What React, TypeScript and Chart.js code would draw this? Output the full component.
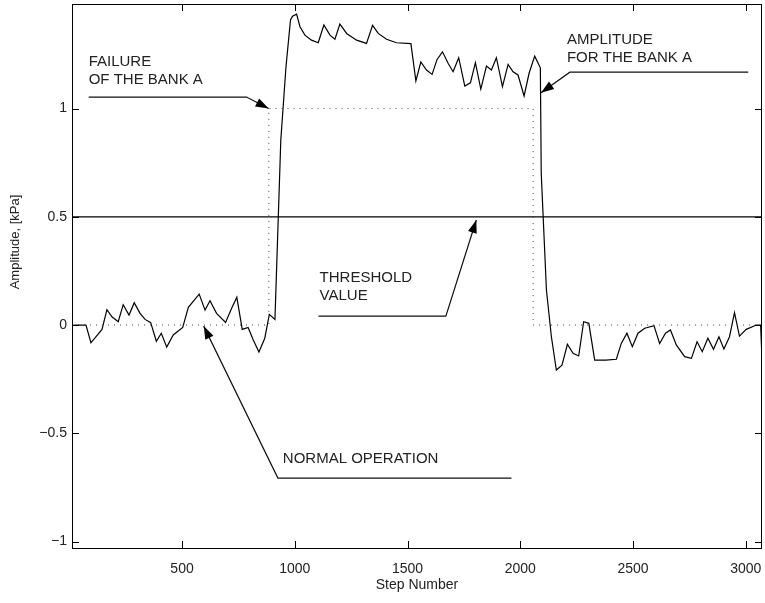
import React, { useEffect, useRef } from "react";
import { Chart, registerables } from "chart.js";

Chart.register(...registerables);

// ---- data ----
const stepNumbers = [
  18, 74, 96, 145, 167, 189, 217, 239, 265, 288, 313, 336, 361, 386, 408, 432, 461, 503, 528, 576,
  602, 624, 653, 693, 720, 743, 767, 793, 816, 841, 867, 887, 912, 938, 961, 981, 990, 1008, 1023,
  1045, 1074, 1104, 1129, 1156, 1178, 1200, 1230, 1274, 1318, 1345, 1370, 1407, 1451, 1515, 1537,
  1559, 1584, 1609, 1631, 1655, 1680, 1702, 1727, 1754, 1779, 1801, 1825, 1850, 1872, 1894, 1921,
  1946, 1968, 1990, 2017, 2039, 2064, 2089, 2093, 2116, 2138, 2160, 2185, 2209, 2234, 2259, 2281,
  2304, 2330, 2379, 2426, 2448, 2473, 2497, 2522, 2552, 2593, 2618, 2644, 2666, 2692, 2729, 2759,
  2784, 2807, 2832, 2857, 2881, 2903, 2928, 2950, 2972, 3002, 3047, 3066, 3072,
];
const amplitude = [
  0, 0, -0.082, -0.02, 0.071, 0.038, 0.015, 0.094, 0.046, 0.103, 0.055, 0.026, 0.011, -0.075, -0.038,
  -0.102, -0.046, -0.011, 0.082, 0.143, 0.069, 0.112, 0.054, 0.012, 0.077, 0.128, -0.02, -0.011,
  -0.069, -0.125, -0.061, 0.049, 0.026, 0.855, 1.193, 1.409, 1.427, 1.436, 1.378, 1.339, 1.316, 1.304,
  1.386, 1.339, 1.32, 1.39, 1.347, 1.316, 1.301, 1.384, 1.347, 1.32, 1.304, 1.3, 1.128, 1.215, 1.178,
  1.158, 1.227, 1.262, 1.209, 1.17, 1.235, 1.104, 1.119, 1.212, 1.09, 1.196, 1.178, 1.235, 1.101,
  1.204, 1.17, 1.155, 1.058, 1.163, 1.242, 1.188, 0.7, 0.162, -0.054, -0.208, -0.185, -0.089, -0.131,
  -0.143, 0.015, 0.008, -0.162, -0.162, -0.158, -0.085, -0.038, -0.1, -0.038, -0.015, -0.003, -0.085,
  -0.038, -0.023, -0.092, -0.146, -0.154, -0.077, -0.123, -0.061, -0.112, -0.054, -0.111, -0.054,
  0.057, -0.051, -0.02, 0, 0, -0.16,
];
const referenceX = [12, 885, 885, 2057, 2057, 3072];
const referenceY = [0, 0, 1, 1, 0, 0];
const thresholdX = [12, 3072];
const thresholdY = [0.5, 0.5];
const xTicks = [500, 1000, 1500, 2000, 2500, 3000];
const yTicks = [-1, -0.5, 0, 0.5, 1];
const xTitle = "Step Number";
const yTitle = "Amplitude, [kPa]";

// annotations: text lines, text anchor (data), leader polyline (data), arrow tip last
const annotations = [
  { lines: ["FAILURE", "OF THE BANK A"], tx: 86, ty: 1.216, path: [[86, 1.053], [786, 1.053], [884, 1.0]] },
  { lines: ["AMPLITUDE", "FOR THE BANK A"], tx: 2207, ty: 1.316, path: [[3011, 1.168], [2220, 1.168], [2092, 1.073]] },
  { lines: ["THRESHOLD", "VALUE"], tx: 1110, ty: 0.22, path: [[1105, 0.041], [1670, 0.041], [1805, 0.485]] },
  { lines: ["NORMAL OPERATION"], tx: 947, ty: -0.62, path: [[1961, -0.707], [925, -0.707], [596, -0.005]] },
];

const FONT = '"Liberation Sans", Arial, Helvetica, sans-serif';
const fmt = (v: number) => String(v).replace("-", "\u2212");

const decorPlugin = {
  id: "decor",
  afterDraw(chart: any) {
    const { ctx, chartArea: a, scales } = chart;
    const xs = scales.x;
    const ys = scales.y;
    ctx.save();
    ctx.strokeStyle = "#000";
    ctx.fillStyle = "#000";
    ctx.lineWidth = 1;
    // box
    ctx.strokeRect(Math.round(a.left) + 0.5, Math.round(a.top) + 0.5, Math.round(a.right - a.left) - 1, Math.round(a.bottom - a.top));
    // inward ticks
    const tl = 7;
    ctx.beginPath();
    for (const t of xTicks) {
      const px = Math.round(xs.getPixelForValue(t)) + 0.5;
      ctx.moveTo(px, a.bottom);
      ctx.lineTo(px, a.bottom - tl);
      ctx.moveTo(px, a.top);
      ctx.lineTo(px, a.top + tl);
    }
    for (const t of yTicks) {
      const py = Math.round(ys.getPixelForValue(t)) + 0.5;
      ctx.moveTo(a.left, py);
      ctx.lineTo(a.left + tl, py);
      ctx.moveTo(a.right, py);
      ctx.lineTo(a.right - tl, py);
    }
    ctx.stroke();

    // tick labels
    ctx.fillStyle = "#222";
    ctx.font = `14px ${FONT}`;
    ctx.textBaseline = "middle";
    ctx.textAlign = "center";
    for (const t of xTicks) {
      ctx.fillText(fmt(t), xs.getPixelForValue(t), a.bottom + 21);
    }
    ctx.textAlign = "right";
    for (const t of yTicks) {
      ctx.fillText(fmt(t), a.left - 5, ys.getPixelForValue(t));
    }

    // titles
    ctx.textAlign = "center";
    ctx.fillText(xTitle, (a.left + a.right) / 2, 585);
    ctx.save();
    ctx.translate(15, 242);
    ctx.rotate(-Math.PI / 2);
    ctx.font = `13px ${FONT}`;
    ctx.fillText(yTitle, 0, 0);
    ctx.restore();

    // annotations
    ctx.font = `15px ${FONT}`;
    ctx.textAlign = "left";
    ctx.textBaseline = "middle";
    ctx.fillStyle = "#222";
    for (const an of annotations) {
      const tx = xs.getPixelForValue(an.tx);
      const ty = ys.getPixelForValue(an.ty);
      an.lines.forEach((l, i) => ctx.fillText(l, tx, ty + i * 18));
      const pts = an.path.map(([x, y]) => [xs.getPixelForValue(x), ys.getPixelForValue(y)]);
      ctx.beginPath();
      ctx.strokeStyle = "#111";
      ctx.lineWidth = 1.2;
      pts.forEach(([x, y], i) => (i === 0 ? ctx.moveTo(x, y) : ctx.lineTo(x, y)));
      ctx.stroke();
      const [x1, y1] = pts[pts.length - 2];
      const [x2, y2] = pts[pts.length - 1];
      const ang = Math.atan2(y2 - y1, x2 - x1);
      const L = 13, W = 4.5;
      ctx.beginPath();
      ctx.moveTo(x2, y2);
      ctx.lineTo(x2 - L * Math.cos(ang) + W * Math.sin(ang), y2 - L * Math.sin(ang) - W * Math.cos(ang));
      ctx.lineTo(x2 - L * Math.cos(ang) - W * Math.sin(ang), y2 - L * Math.sin(ang) + W * Math.cos(ang));
      ctx.closePath();
      ctx.fillStyle = "#000";
      ctx.fill();
      ctx.fillStyle = "#222";
    }
    ctx.restore();
  },
};

export default function App() {
  const ref = useRef<HTMLCanvasElement | null>(null);
  useEffect(() => {
    if (!ref.current) return;
    const chart = new Chart(ref.current, {
      type: "line",
      data: {
        datasets: [
          {
            label: "reference",
            data: referenceX.map((x, i) => ({ x, y: referenceY[i] })),
            borderColor: "#444",
            borderWidth: 1,
            borderDash: [1, 5],
            pointRadius: 0,
            tension: 0,
          },
          {
            label: "threshold",
            data: thresholdX.map((x, i) => ({ x, y: thresholdY[i] })),
            borderColor: "#000",
            borderWidth: 1.2,
            pointRadius: 0,
            tension: 0,
          },
          {
            label: "amplitude",
            data: stepNumbers.map((x, i) => ({ x, y: amplitude[i] })),
            borderColor: "#000",
            borderWidth: 1.2,
            pointRadius: 0,
            tension: 0,
          },
        ],
      },
      options: {
        animation: false,
        responsive: false,
        maintainAspectRatio: false,
        layout: { padding: { top: 4, right: 3, left: 0, bottom: 0 } },
        plugins: { legend: { display: false }, tooltip: { enabled: false }, title: { display: false } },
        scales: {
          x: {
            type: "linear",
            min: 12,
            max: 3072,
            afterBuildTicks: (s: any) => {
              s.ticks = xTicks.map((v) => ({ value: v }));
            },
            afterFit: (s: any) => {
              s.height = 55;
              s.paddingLeft = 0;
              s.paddingRight = 0;
            },
            grid: { display: false, drawTicks: false },
            border: { display: false },
            ticks: { display: false },
          },
          y: {
            type: "linear",
            min: -1.03,
            max: 1.483,
            afterBuildTicks: (s: any) => {
              s.ticks = yTicks.map((v) => ({ value: v }));
            },
            afterFit: (s: any) => {
              s.width = 72;
              s.paddingTop = 0;
              s.paddingBottom = 0;
            },
            grid: { display: false, drawTicks: false },
            border: { display: false },
            ticks: { display: false },
          },
        },
      },
      plugins: [decorPlugin],
    });
    return () => chart.destroy();
  }, []);
  return (
    <div style={{ position: "absolute", left: 0, top: 0, width: 765, height: 603, background: "#fff" }}>
      <canvas ref={ref} width={765} height={603} style={{ width: 765, height: 603 }} />
    </div>
  );
}
